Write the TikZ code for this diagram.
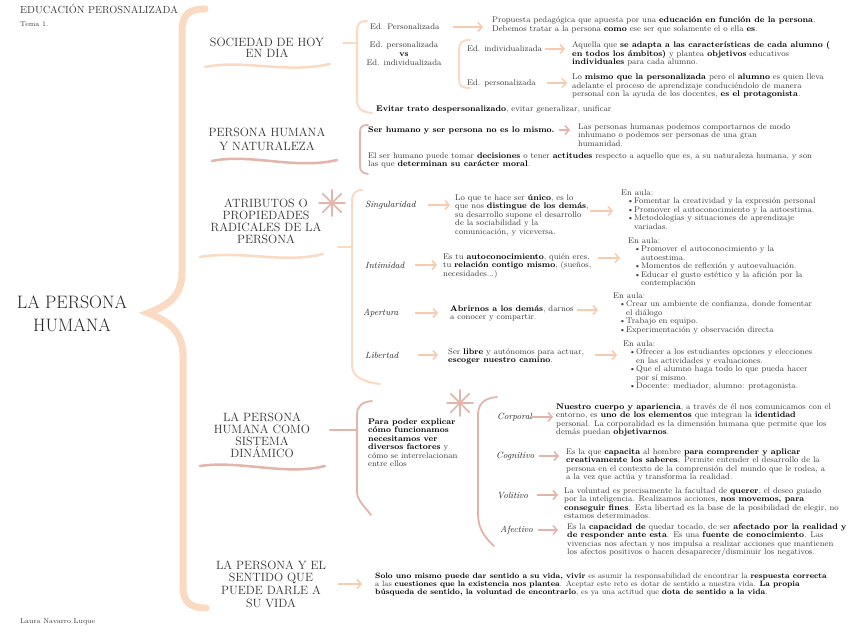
\documentclass[tikz,border=0pt]{standalone}
\usetikzlibrary{arrows.meta}
\definecolor{peach}{HTML}{FBDAC4}
\definecolor{peachA}{HTML}{F8CBAE}
\definecolor{rose}{HTML}{E2B4AA}
\definecolor{txtc}{HTML}{3C3C3C}
\newcommand{\bb}[1]{\textbf{\color{black}#1}}
\newcommand{\blt}{\hspace*{6pt}\makebox[7pt][l]{\textbullet}}
\newcommand{\hng}{\hspace*{13pt}}
\begin{document}
\begin{tikzpicture}[x=1pt,y=-1pt,
 txt/.style={anchor=north west, align=left, inner sep=0pt, text=txtc, font=\fontsize{8.2}{8.5}\selectfont},
 lbl/.style={anchor=west, inner sep=0pt, text=txtc, font=\fontsize{8.2}{8.5}\selectfont},
 scr/.style={anchor=west, inner sep=0pt, text=black!85, font=\itshape\fontsize{9}{9}\selectfont},
 ttl/.style={align=center, inner sep=0pt, text=black!80, font=\fontsize{12}{12}\selectfont},
 arrP/.style={draw=peachA, line width=1.5pt, -{Straight Barb[length=4pt,width=9pt]}},
 arrR/.style={arrP, draw=rose},
 brP/.style={draw=peach, line width=2pt, line cap=round},
 brR/.style={draw=rose, line width=1.8pt, line cap=round},
 wavP/.style={draw=peach, line width=2.5pt, line cap=round},
 wavR/.style={draw=rose, line width=2.5pt, line cap=round},
 ast/.style={draw=rose, line width=1.6pt, line cap=round},
]
\useasboundingbox (0,0) rectangle (848,636);
\fill[white] (0,0) rectangle (848,636);

% header and footer
\node[anchor=west, inner sep=0pt, text=txtc, font=\fontsize{10.3}{10}\selectfont] (hdr) at (20,9) {EDUCACIÓN PEROSNALIZADA};
\node[anchor=west, inner sep=0pt, text=txtc, font=\fontsize{7}{7}\selectfont] (tema) at (20,24) {Tema 1.};
\node[anchor=west, inner sep=0pt, text=txtc, font=\fontsize{7}{7}\selectfont] (autor) at (20,622) {Laura Navarro Luque};

% main title and brace
\node[align=center, inner sep=0pt, text=black!85, font=\fontsize{18}{23}\selectfont] (main) at (72,314) {LA PERSONA\\HUMANA};
\draw[draw=peach, line width=7pt, line cap=round] (205,9) .. controls (188,9) and (182,15) .. (182,32) -- (182,272) .. controls (182,298) and (166,306) .. (148,313) .. controls (166,320) and (183,330) .. (183,356) -- (183,588) .. controls (183,602) and (191,608) .. (206,608);

% section titles
\node[ttl, font=\fontsize{12}{11}\selectfont] (s1) at (267,47.5) {SOCIEDAD DE HOY\\EN DIA};
\node[ttl, font=\fontsize{12}{14}\selectfont] (s2) at (267,139) {PERSONA HUMANA\\Y NATURALEZA};
\node[ttl] (s3) at (266,221.5) {ATRIBUTOS O\\PROPIEDADES\\RADICALES DE LA\\PERSONA};
\node[ttl] (s4) at (262,435) {LA PERSONA\\HUMANA COMO\\SISTEMA\\DINÁMICO};
\node[ttl, font=\fontsize{12}{12.6}\selectfont] (s5) at (271,584) {LA PERSONA Y EL\\SENTIDO QUE\\PUEDE DARLE A\\SU VIDA};

% wavy underlines
\draw[wavP] (205,67) .. controls (245,59) and (285,74) .. (330,64);
\draw[wavR] (212,161) .. controls (250,153) and (295,170) .. (337,160);
\draw[wavP] (200,257) .. controls (240,250) and (285,264) .. (323,254);
\draw[wavR] (200,466) .. controls (240,460) and (285,476) .. (325,466);

% asterisks
\foreach \a in {0,45,90,135} {
  \draw[ast] (332,203) +(\a:13) -- +(\a+180:13);
  \draw[ast] (460,403) +(\a:13) -- +(\a+180:13);
}

% ---------- section 1 ----------
\coordinate (b1) at (357,43);
\draw[brP] (b1) -- ++(-14,0);
\draw[brP] (367,21) .. controls (359,21) and (357,24) .. (357,32) -- (357,100) .. controls (357,108) and (361,112) .. (372,113);
\draw[brP] (470,40) .. controls (462,40) and (459,43) .. (459,50) -- (459,80) .. controls (459,86) and (462,88) .. (470,88);

\node[lbl] (edP) at (370,27) {Ed. Personalizada};
\node[txt] (prop) at (492,17) {Propuesta pedagógica que apuesta por una \bb{educación en función de la persona}.\\Debemos tratar a la persona \bb{como} ese ser que solamente el o ella \bb{es}.};
\node[txt, anchor=north, align=center, font=\fontsize{8.2}{9}\selectfont] (edvs) at (404,42) {Ed. personalizada\\\bb{vs}\\Ed. individualizada};
\node[lbl] (edI) at (467,49) {Ed. individualizada};
\node[txt] (aq) at (572,41.5) {Aquella que \bb{se adapta a las características de cada alumno (}\\\bb{en todos los ámbitos)} y plantea \bb{objetivos} educativos\\\bb{individuales} para cada alumno.};
\node[lbl] (edP2) at (467,83) {Ed. personalizada};
\node[txt] (lm) at (572,74) {Lo \bb{mismo que la personalizada} pero el \bb{alumno} es quien lleva\\adelante el proceso de aprendizaje conduciéndolo de manera\\personal con la ayuda de los docentes, \bb{es el protagonista}.};
\node[lbl] (evit) at (376,109) {\bb{Evitar trato despersonalizado}, evitar generalizar, unificar};

\draw[arrP] ([xshift=-39]prop.west |- edP.east) -- ([xshift=-9]prop.west |- edP.east);
\draw[arrP] ([xshift=-27]aq.west |- edI.east) -- ([xshift=-7]aq.west |- edI.east);
\draw[arrP] ([xshift=-25]lm.west |- edP2.east) -- ([xshift=-5]lm.west |- edP2.east);

% ---------- section 2 ----------
\draw[brR] (368,125) .. controls (362,125) and (360,127) .. (360,132) -- (360,166) .. controls (360,171) and (362,173) .. (368,174);
\node[lbl] (ser) at (368,130) {\bb{Ser humano y ser persona no es lo mismo.}};
\node[txt] (lp) at (578,123.5) {Las personas humanas podemos comportarnos de modo\\inhumano o podemos ser personas de una gran\\humanidad.};
\node[txt] (esh) at (368,152.5) {El ser humano puede tomar \bb{decisiones} o tener \bb{actitudes} respecto a aquello que es, a su naturaleza humana, y son\\las que \bb{determinan su carácter moral}.};
\draw[arrR] ([xshift=4]ser.east) -- ([xshift=-8]lp.west |- ser.east);

% ---------- section 3 ----------
\coordinate (b3) at (352,247);
\draw[brP] (b3) -- ++(-14,0);
\draw[brP] (362,190) .. controls (355,190) and (352,194) .. (352,202) -- (352,365) .. controls (352,376) and (362,382) .. (380,384);

\node[scr] (sing) at (365,205) {Singularidad};
\node[txt] (lq) at (455,194.5) {Lo que te hace ser \bb{único}, es lo\\que nos \bb{distingue de los demás},\\su desarrollo supone el desarrollo\\de la sociabilidad y la\\comunicación, y viceversa.};
\node[txt] (aula1) at (621,189.5) {En aula:\\\blt Fomentar la creatividad y la expresión personal\\\blt Promover el autoconocimiento y la autoestima.\\\blt Metodologías y situaciones de aprendizaje\\\hng variadas.};
\draw[arrP] ([xshift=-27]lq.west |- sing.east) -- ([xshift=-5]lq.west |- sing.east);
\draw[arrP] ([xshift=-31,yshift=-6]aula1.west |- sing.east) -- ([xshift=-8,yshift=-6]aula1.west |- sing.east);

\node[scr] (intim) at (365,265) {Intimidad};
\node[txt] (tu) at (443,253.5) {Es tu \bb{autoconocimiento}, quién eres,\\tu \bb{relación contigo mismo}, (sueños,\\necesidades...)};
\node[txt] (aula2) at (628,237.5) {En aula:\\\blt Promover el autoconocimiento y la\\\hng autoestima.\\\blt Momentos de reflexión y autoevaluación.\\\blt Educar el gusto estético y la afición por la\\\hng contemplación};
\draw[arrP] ([xshift=-28]tu.west |- intim.east) -- ([xshift=-6]tu.west |- intim.east);
\draw[arrP] ([xshift=-30,yshift=7]aula2.west |- intim.east) -- ([xshift=-8,yshift=7]aula2.west |- intim.east);

\node[scr] (aper) at (363,313) {Apertura};
\node[txt] (abr) at (450,305.5) {\bb{Abrirnos a los demás}, darnos\\a conocer y compartir.};
\node[txt] (aula3) at (613,292.5) {En aula:\\\blt Crear un ambiente de confianza, donde fomentar\\\hng el diálogo\\\blt Trabajo en equipo.\\\blt Experimentación y observación directa};
\draw[arrP] ([xshift=-35]abr.west |- aper.east) -- ([xshift=-12]abr.west |- aper.east);
\draw[arrP] ([xshift=-36,yshift=3]aula3.west |- aper.east) -- ([xshift=-15,yshift=3]aula3.west |- aper.east);

\node[scr] (lib) at (365,355) {Libertad};
\node[txt] (sl) at (448,348.5) {Ser \bb{libre} y autónomos para actuar,\\\bb{escoger nuestro camino}.};
\node[txt] (aula4) at (623,340.5) {En aula:\\\blt Ofrecer a los estudiantes opciones y elecciones\\\hng en las actividades y evaluaciones.\\\blt Que el alumno haga todo lo que pueda hacer\\\hng por sí mismo.\\\blt Docente: mediador, alumno: protagonista.};
\draw[arrP] ([xshift=-30]sl.west |- lib.east) -- ([xshift=-10]sl.west |- lib.east);
\draw[arrP] ([xshift=-28]aula4.west |- lib.east) -- ([xshift=-6]aula4.west |- lib.east);

% ---------- section 4 ----------
\coordinate (b4) at (356,430);
\draw[brR, line width=2.5pt] (b4) -- ++(-26,0);
\draw[brR] (372,401) .. controls (362,402) and (357,406) .. (357,415) -- (357,492) .. controls (357,500) and (365,507) .. (371,515);
\draw[brR] (497,397) .. controls (484,398) and (478,404) .. (478,415) -- (478,515) .. controls (478,528) and (485,538) .. (494,546);

\node[txt] (pp) at (368,418.5) {\bb{Para poder explicar}\\\bb{cómo funcionamos}\\\bb{necesitamos ver}\\\bb{diversos factores} y\\cómo se interrelacionan\\entre ellos};

\node[scr] (corp) at (497,417) {Corporal};
\node[txt] (nc) at (556,403.5) {\bb{Nuestro cuerpo y apariencia}, a través de él nos comunicamos con el\\entorno, es \bb{uno de los elementos} que integran la \bb{identidad}\\personal. La corporalidad es la dimensión humana que permite que los\\demás puedan \bb{objetivarnos}.};
\draw[arrR] ([xshift=-25]nc.west |- corp.east) -- ([xshift=-3]nc.west |- corp.east);

\node[scr] (cogn) at (496,456) {Cognitivo};
\node[txt] (cap) at (566,448.5) {Es la que \bb{capacita} al hombre \bb{para comprender y aplicar}\\\bb{creativamente los saberes}. Permite entender el desarrollo de la\\persona en el contexto de la comprensión del mundo que le rodea, a\\a la vez que actúa y transforma la realidad.};
\draw[arrR] ([xshift=-27]cap.west |- cogn.east) -- ([xshift=-7]cap.west |- cogn.east);

\node[scr] (vol) at (497,495) {Volitivo};
\node[txt] (vo) at (564,487.5) {La voluntad es precisamente la facultad de \bb{querer}, el deseo guiado\\por la inteligencia. Realizamos acciones, \bb{nos movemos, para}\\\bb{conseguir fines}. Esta libertad es la base de la posibilidad de elegir, no\\estamos determinados.};
\draw[arrR] ([xshift=-27]vo.west |- vol.east) -- ([xshift=-6]vo.west |- vol.east);

\node[scr] (afec) at (500,530) {Afectivo};
\node[txt] (ec) at (567,523.5) {Es la \bb{capacidad de} quedar tocado, de ser \bb{afectado por la realidad y}\\\bb{de responder ante esta}. Es una \bb{fuente de conocimiento}. Las\\vivencias nos afectan y nos impulsa a realizar acciones que mantienen\\los afectos positivos o hacen desaparecer/disminuir los negativos.};
\draw[arrR] ([xshift=-29]ec.west |- afec.east) -- ([xshift=-9]ec.west |- afec.east);

% ---------- section 5 ----------
\node[txt, font=\fontsize{7.8}{8}\selectfont] (solo) at (375,573) {\bb{Solo uno mismo puede dar sentido a su vida, vivir} es asumir la responsabilidad de encontrar la \bb{respuesta correcta}\\a las \bb{cuestiones que la existencia nos plantea}. Aceptar este reto es dotar de sentido a nuestra vida. \bb{La propia}\\\bb{búsqueda de sentido, la voluntad de encontrarlo}, es ya una actitud que \bb{dota de sentido a la vida}.};
\draw[arrP] ([xshift=-37]solo.west |- s5.east) -- ([xshift=-13]solo.west |- s5.east);

\end{tikzpicture}
\end{document}
